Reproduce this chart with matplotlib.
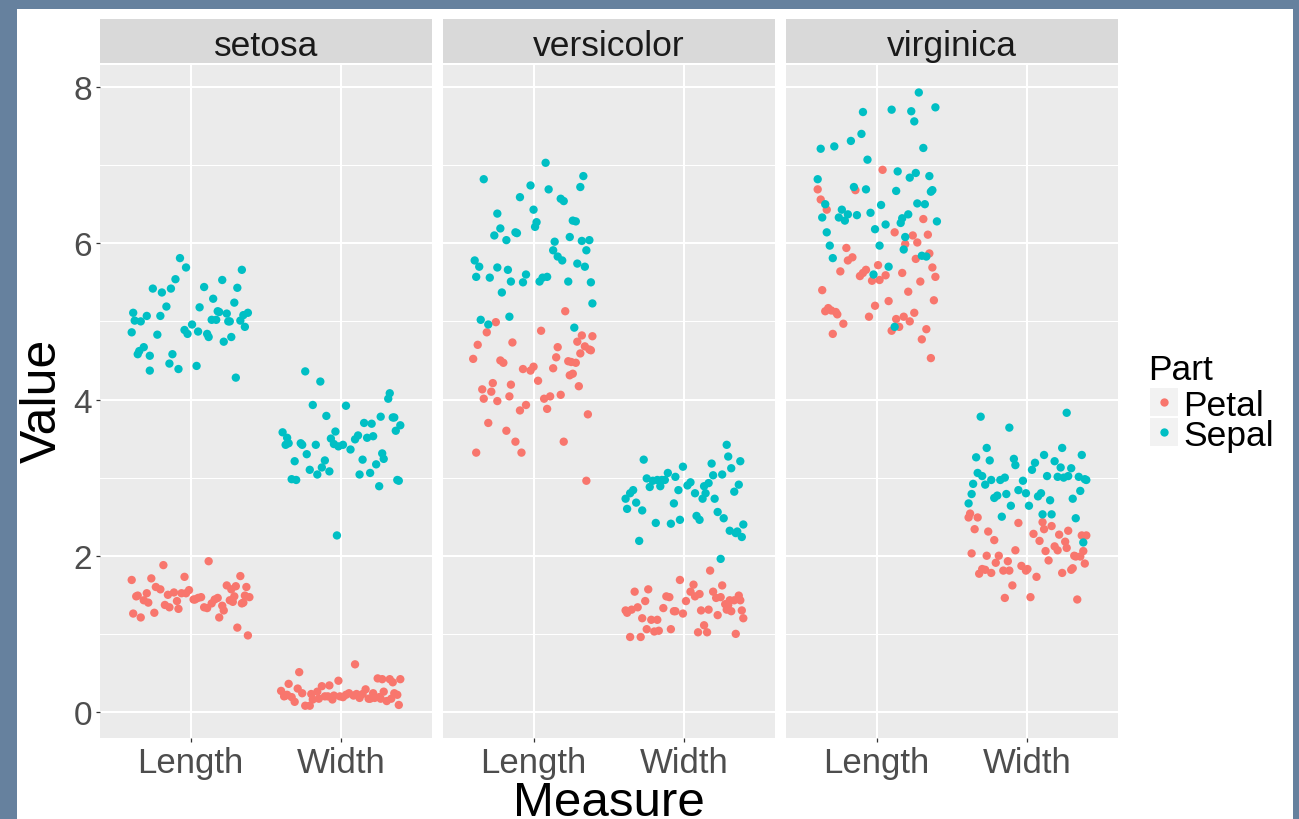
import numpy as np
import matplotlib
matplotlib.use("Agg")
import matplotlib.pyplot as plt
from matplotlib.patches import Rectangle
from matplotlib.lines import Line2D

# ---------------- data (iris, in original row order) ----------------
species = ["setosa", "versicolor", "virginica"]
measures = ["Length", "Width"]
parts = ["Petal", "Sepal"]
part_colors = ["#F8766D", "#00BFC4"]
y_ticks = [0, 2, 4, 6, 8]

sepal_length = [
    5.1, 4.9, 4.7, 4.6, 5.0, 5.4, 4.6, 5.0, 4.4, 4.9, 5.4, 4.8, 4.8, 4.3, 5.8, 5.7, 5.4, 5.1, 5.7, 5.1,
    5.4, 5.1, 4.6, 5.1, 4.8, 5.0, 5.0, 5.2, 5.2, 4.7, 4.8, 5.4, 5.2, 5.5, 4.9, 5.0, 5.5, 4.9, 4.4, 5.1,
    5.0, 4.5, 4.4, 5.0, 5.1, 4.8, 5.1, 4.6, 5.3, 5.0,
    7.0, 6.4, 6.9, 5.5, 6.5, 5.7, 6.3, 4.9, 6.6, 5.2, 5.0, 5.9, 6.0, 6.1, 5.6, 6.7, 5.6, 5.8, 6.2, 5.6,
    5.9, 6.1, 6.3, 6.1, 6.4, 6.6, 6.8, 6.7, 6.0, 5.7, 5.5, 5.5, 5.8, 6.0, 5.4, 6.0, 6.7, 6.3, 5.6, 5.5,
    5.5, 6.1, 5.8, 5.0, 5.6, 5.7, 5.7, 6.2, 5.1, 5.7,
    6.3, 5.8, 7.1, 6.3, 6.5, 7.6, 4.9, 7.3, 6.7, 7.2, 6.5, 6.4, 6.8, 5.7, 5.8, 6.4, 6.5, 7.7, 7.7, 6.0,
    6.9, 5.6, 7.7, 6.3, 6.7, 7.2, 6.2, 6.1, 6.4, 7.2, 7.4, 7.9, 6.4, 6.3, 6.1, 7.7, 6.3, 6.4, 6.0, 6.9,
    6.7, 6.9, 5.8, 6.8, 6.7, 6.7, 6.3, 6.5, 6.2, 5.9,
]
sepal_width = [
    3.5, 3.0, 3.2, 3.1, 3.6, 3.9, 3.4, 3.4, 2.9, 3.1, 3.7, 3.4, 3.0, 3.0, 4.0, 4.4, 3.9, 3.5, 3.8, 3.8,
    3.4, 3.7, 3.6, 3.3, 3.4, 3.0, 3.4, 3.5, 3.4, 3.2, 3.1, 3.4, 4.1, 4.2, 3.1, 3.2, 3.5, 3.6, 3.0, 3.4,
    3.5, 2.3, 3.2, 3.5, 3.8, 3.0, 3.8, 3.2, 3.7, 3.3,
    3.2, 3.2, 3.1, 2.3, 2.8, 2.8, 3.3, 2.4, 2.9, 2.7, 2.0, 3.0, 2.2, 2.9, 2.9, 3.1, 3.0, 2.7, 2.2, 2.5,
    3.2, 2.8, 2.5, 2.8, 2.9, 3.0, 2.8, 3.0, 2.9, 2.6, 2.4, 2.4, 2.7, 2.7, 3.0, 3.4, 3.1, 2.3, 3.0, 2.5,
    2.6, 3.0, 2.6, 2.3, 2.7, 3.0, 2.9, 2.9, 2.5, 2.8,
    3.3, 2.7, 3.0, 2.9, 3.0, 3.0, 2.5, 2.9, 2.5, 3.6, 3.2, 2.7, 3.0, 2.5, 2.8, 3.2, 3.0, 3.8, 2.6, 2.2,
    3.2, 2.8, 2.8, 2.7, 3.3, 3.2, 2.8, 3.0, 2.8, 3.0, 2.8, 3.8, 2.8, 2.8, 2.6, 3.0, 3.4, 3.1, 3.0, 3.1,
    3.1, 3.1, 2.7, 3.2, 3.3, 3.0, 2.5, 3.0, 3.4, 3.0,
]
petal_length = [
    1.4, 1.4, 1.3, 1.5, 1.4, 1.7, 1.4, 1.5, 1.4, 1.5, 1.5, 1.6, 1.4, 1.1, 1.2, 1.5, 1.3, 1.4, 1.7, 1.5,
    1.7, 1.5, 1.0, 1.7, 1.9, 1.6, 1.6, 1.5, 1.4, 1.6, 1.6, 1.5, 1.5, 1.4, 1.5, 1.2, 1.3, 1.4, 1.3, 1.5,
    1.3, 1.3, 1.3, 1.6, 1.9, 1.4, 1.6, 1.4, 1.5, 1.4,
    4.7, 4.5, 4.9, 4.0, 4.6, 4.5, 4.7, 3.3, 4.6, 3.9, 3.5, 4.2, 4.0, 4.7, 3.6, 4.4, 4.5, 4.1, 4.5, 3.9,
    4.8, 4.0, 4.9, 4.7, 4.3, 4.4, 4.8, 5.0, 4.5, 3.5, 3.8, 3.7, 3.9, 5.1, 4.5, 4.5, 4.7, 4.4, 4.1, 4.0,
    4.4, 4.6, 4.0, 3.3, 4.2, 4.2, 4.2, 4.3, 3.0, 4.1,
    6.0, 5.1, 5.9, 5.6, 5.8, 6.6, 4.5, 6.3, 5.8, 6.1, 5.1, 5.3, 5.5, 5.0, 5.1, 5.3, 5.5, 6.7, 6.9, 5.0,
    5.7, 4.9, 6.7, 4.9, 5.7, 6.0, 4.8, 4.9, 5.6, 5.8, 6.1, 6.4, 5.6, 5.1, 5.6, 6.1, 5.6, 5.5, 4.8, 5.4,
    5.6, 5.1, 5.1, 5.9, 5.7, 5.2, 5.0, 5.2, 5.4, 5.1,
]
petal_width = [
    0.2, 0.2, 0.2, 0.2, 0.2, 0.4, 0.3, 0.2, 0.2, 0.1, 0.2, 0.2, 0.1, 0.1, 0.2, 0.4, 0.4, 0.3, 0.3, 0.3,
    0.2, 0.4, 0.2, 0.5, 0.2, 0.2, 0.4, 0.2, 0.2, 0.2, 0.2, 0.4, 0.1, 0.2, 0.2, 0.2, 0.2, 0.1, 0.2, 0.2,
    0.3, 0.3, 0.2, 0.6, 0.4, 0.3, 0.2, 0.2, 0.2, 0.2,
    1.4, 1.5, 1.5, 1.3, 1.5, 1.3, 1.6, 1.0, 1.3, 1.4, 1.0, 1.5, 1.0, 1.4, 1.3, 1.4, 1.5, 1.0, 1.5, 1.1,
    1.8, 1.3, 1.5, 1.2, 1.3, 1.4, 1.4, 1.7, 1.5, 1.0, 1.1, 1.0, 1.2, 1.6, 1.5, 1.6, 1.5, 1.3, 1.3, 1.3,
    1.2, 1.4, 1.2, 1.0, 1.3, 1.2, 1.3, 1.3, 1.1, 1.3,
    2.5, 1.9, 2.1, 1.8, 2.2, 2.1, 1.7, 1.8, 1.8, 2.5, 2.0, 1.9, 2.1, 2.0, 2.4, 2.3, 1.8, 2.2, 2.3, 1.5,
    2.3, 2.0, 2.0, 1.8, 2.1, 1.8, 1.8, 1.8, 2.1, 1.6, 1.9, 2.0, 2.2, 1.5, 1.4, 2.3, 2.4, 1.8, 1.8, 2.1,
    2.4, 2.3, 1.9, 2.3, 2.5, 2.3, 1.9, 2.0, 2.3, 1.8,
]

# horizontal jitter (hundredths of a category step)
jitter_petal_length = [
    28, -17, 9, -36, 35, -4, 21, -29, 14, -11, 39, -23, 3, 31, -33, 18, -8, 26, -39, 7,
    33, -15, 38, -26, 12, -1, 24, -35, 16, -20, 37, -6, 29, -31, 5, 19, -14, 34, -24, -3,
    22, -38, 11, 30, -18, 2, 27, -9, 36, -28,
    -14, 25, -31, 7, 37, -22, 16, -38, 31, -5, 20, -27, 11, 34, -18, 0, 28, -34, 23, -9,
    39, -16, 5, -37, 26, -2, 32, -25, 15, -12, 36, -30, 9, 21, -20, -40, 29, -7, 18, -33,
    13, 38, -24, -8, 30, 3, -15, 24, 35, -28,
    19, -30, 35, -9, 26, -37, 36, 31, -19, 12, -26, 38, -3, 22, -34, 8, 29, -14, 4, -22,
    1, 33, -39, 15, -7, 27, -29, 10, 39, -16, 24, -33, 6, 18, -24, 34, -11, 2, 30, -36,
    17, -5, 25, -20, 37, -32, 13, -1, 21, -27,
]
jitter_petal_width = [
    -5, 33, -26, 12, -38, 24, -16, 37, 1, -31, 19, -9, 30, -21, 8, -35, 27, -13, 16, -40,
    35, -2, 22, -28, 10, -19, 39, -33, 5, 26, -11, 32, -24, 14, -6, -37, 21, 38, -15, 3,
    -29, 28, -20, 9, 34, -8, 18, -36, 25, -1,
    30, -12, 21, -35, 4, 38, -24, 15, -6, 33, -29, 10, -17, 27, -39, 1, 24, -20, 36, -9,
    17, -31, 7, 39, -14, 29, -26, -3, 19, -36, 13, 34, -22, 6, -10, 25, -33, 31, -1, 16,
    -28, 37, -18, 9, -38, 22, -7, 28, -25, 11,
    -33, 14, -8, 29, -22, 37, 6, -16, 23, -38, 32, -4, 18, -27, 10, 39, -12, 25, -35, 2,
    27, -19, 35, -30, 12, -1, 30, -24, 20, -10, 38, -37, 8, -15, 33, -26, 16, 0, -32, 26,
    -6, 36, -21, 11, -39, 21, -13, 31, 4, -28,
]
jitter_sepal_length = [
    -38, 5, 22, -12, -33, 31, -27, 14, -8, 36, -19, 27, -2, 30, -7, 34, -13, 18, -3, -29,
    9, 24, -35, 38, -22, 1, 17, -16, 29, -31, 12, -25, 6, 21, -39, 33, -10, -4, -27, 19,
    26, -14, 4, -37, 35, 11, -20, -34, 15, 25,
    8, -24, 33, -15, 20, -36, 2, 27, -9, 39, -30, 13, -18, 24, -5, 31, -38, 16, -22, 6,
    35, -12, 28, -26, 0, 18, -33, 10, 37, -17, 23, -7, -39, 32, -21, 14, -2, 26, -29, 4,
    38, -11, 19, -35, 9, 29, -24, 1, -16, 34,
    -21, 30, -6, 17, -34, 25, 12, -17, 37, -28, 3, 21, -39, 8, 33, -13, 27, -9, 39, -31,
    14, -2, 23, -25, 36, -37, 6, 19, -19, 31, -10, 28, -4, 16, -33, 10, 40, -23, 2, 26,
    -15, 35, -29, 22, -7, 13, -36, 32, -1, 18,
]
jitter_sepal_width = [
    17, -30, 28, -8, 36, -19, 6, -37, 25, -13, 39, -2, 12, -33, 31, -24, 3, 21, -10, 34,
    -27, 15, -39, 27, -5, 38, -17, 9, -35, 23, -21, 1, 32, -14, 19, -31, 11, -4, 37, -26,
    -7, -3, 14, -36, 26, -16, 35, -11, 20, -23,
    -27, 18, -11, 35, -34, 7, 29, -19, 13, -39, 24, -6, 38, -23, 2, 31, -15, 20, -30, 10,
    37, -4, 26, -36, 16, -13, 33, -25, 4, 22, -9, 39, -32, 12, -18, 28, -1, 34, -21, 8,
    -38, 19, -28, 30, -7, 25, -16, 36, -3, 14,
    11, -22, 39, -36, 24, -3, 16, -28, 32, -12, 5, -39, 27, -17, 35, -8, 20, -31, 1, 37,
    -25, 9, -14, 30, -34, 18, -6, 38, -20, 13, -1, 26, -37, 7, -11, 34, -27, 22, -18, 3,
    29, -33, 15, -9, 36, -24, 10, -15, 23, -30,
]
# small vertical jitter (hundredths of a unit)
jitter_value = [
    1, -3, 4, -2, 0, 3, -4, 2, -1, 3, -3, 0, 4, -2, 1, -4, 2, 3, -1, -3,
    4, 0, -2, 1, 3, -4, 2, -1, 4, -3, 0, 2, -2, 3, -4, 1, 4, -1, -3, 2,
    0, -4, 3, 1, -2, 4, -3, 2, -1, 0, 3, -2, -4, 1, 4, 0, -3, 2, -1, 3,
    -4, 1, 4, -2, 0, 2, -3, 3, -1, -4, 1, 4, -2, 0, 3, -3, 2, -1, 4, -4,
    1, 0, -2, 3, -3, 2, 4, -1, -4, 1, 0, 3, -2, 2, -3, 4, -1, 1, -4, 0,
    -1, 4, -3, 2, 0, -4, 3, 1, -2, 4, -1, -3, 2, 0, 3, -4, 1, -2, 4, -3,
    2, 0, -1, 3, -4, 1, 4, -2, -3, 2, 0, 3, -1, -4, 4, 1, -2, 3, -3, 0,
    2, -4, 1, 4, -1, -3, 3, 0, -2, 2,
]

values = {("Petal", "Length"): petal_length, ("Petal", "Width"): petal_width,
          ("Sepal", "Length"): sepal_length, ("Sepal", "Width"): sepal_width}
jitters = {("Petal", "Length"): jitter_petal_length, ("Petal", "Width"): jitter_petal_width,
           ("Sepal", "Length"): jitter_sepal_length, ("Sepal", "Width"): jitter_sepal_width}

# ---------------- figure ----------------
W, H = 1299, 820
fig = plt.figure(figsize=(W / 100, H / 100), dpi=100)
fig.patch.set_facecolor("#66819E")
fig.add_artist(Rectangle((17 / W, 0), (1293 - 17) / W, (H - 10) / H,
                         transform=fig.transFigure, facecolor="white", edgecolor="none", zorder=0))

FONT = "Liberation Sans"
plt.rcParams["font.family"] = [FONT, "DejaVu Sans"]

panel_left = [100, 443, 786]
panel_w = 332
panel_top, panel_bot = 66, 739
ph = panel_bot - panel_top

yj = np.array(jitter_value) / 100.0
for i, sp in enumerate(species):
    ax = fig.add_axes([panel_left[i] / W, (H - panel_bot) / H, panel_w / W, ph / H])
    ax.set_facecolor("#EBEBEB")
    for s in ax.spines.values():
        s.set_visible(False)
    ax.set_xlim(0.4, 2.6)
    ax.set_ylim(-0.333, 8.282)
    ax.set_yticks(y_ticks)
    ax.set_yticks([1, 3, 5, 7], minor=True)
    ax.set_xticks([1, 2])
    ax.set_xticklabels(measures)
    ax.grid(True, which="major", color="white", linewidth=1.5)
    ax.grid(True, which="minor", axis="y", color="white", linewidth=0.75)
    ax.set_axisbelow(True)
    ax.tick_params(axis="both", which="major", length=3.2, width=0.9, color="#333333",
                   labelsize=25, labelcolor="#4D4D4D", pad=2.5)
    ax.tick_params(axis="y", which="major", labelsize=24)
    ax.tick_params(axis="both", which="minor", length=0)
    if i > 0:
        ax.tick_params(axis="y", which="major", length=0, labelleft=False)

    sl = slice(50 * i, 50 * i + 50)
    for pi, part in enumerate(parts):
        for mi, m in enumerate(measures):
            v = np.array(values[(part, m)][sl]) + yj[sl]
            x = (mi + 1) + np.array(jitters[(part, m)][sl]) / 100.0
            ax.scatter(x, v, s=36, color=part_colors[pi], edgecolors="none", zorder=3)

    # facet strip
    ax.add_patch(Rectangle((0, 1 + 2 / ph), 1, 44 / ph, transform=ax.transAxes,
                           facecolor="#D9D9D9", edgecolor="none", clip_on=False))
    ax.text(0.5, 1 + 23 / ph, sp, transform=ax.transAxes, ha="center", va="center_baseline",
            fontsize=25.5, color="#1A1A1A")

# axis titles
fig.text(609 / W, 4 / H, "Measure", ha="center", va="baseline", fontsize=35.5, color="black")
fig.text(43 / W, (H - 401) / H, "Value", ha="center", va="center", rotation=90,
         fontsize=36, color="black")

# legend
fig.text(1148 / W, (H - 380) / H, "Part", ha="left", va="baseline", fontsize=25.5, color="black")
key_tops = [389, 419]
for k, part in enumerate(parts):
    t = key_tops[k]
    fig.add_artist(Rectangle((1150 / W, (H - t - 28) / H), 28 / W, 28 / H,
                             transform=fig.transFigure, facecolor="#F2F2F2", edgecolor="none"))
    fig.add_artist(Line2D([1164 / W], [(H - t - 14) / H], transform=fig.transFigure,
                          marker="o", markersize=6, color=part_colors[k], markeredgewidth=0,
                          linestyle="none"))
    fig.text(1183 / W, (H - t - 14) / H, part, ha="left", va="center_baseline",
             fontsize=25.5, color="black")

fig.savefig("out.png", dpi=100, facecolor=fig.get_facecolor())
